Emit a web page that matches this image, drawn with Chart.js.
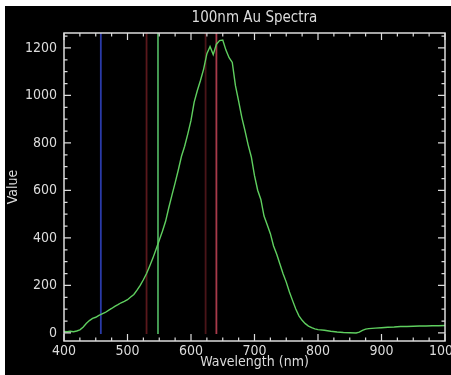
<!DOCTYPE html>
<html>
<head>
<meta charset="utf-8">
<script src="https://cdn.jsdelivr.net/npm/chart.js@4.4.1/dist/chart.umd.min.js"></script>
<style>
  html, body { margin: 0; padding: 0; background: #fff; overflow: hidden; }
  #wrap { position: absolute; left: 5px; top: 6px; width: 446px; height: 369px; background: #000; }
</style>
</head>
<body>
<div id="wrap"><canvas id="chart"></canvas></div>
<script>
// spectrum (nm / counts)
const wavelengths = [
  400, 405, 410, 415, 420, 425, 430, 435, 440, 445, 450, 455, 460, 465, 470, 475, 480, 485, 490, 495,
  500, 505, 510, 515, 520, 525, 530, 535, 540, 545, 550, 555, 560, 565, 570, 575, 580, 585, 590, 595,
  600, 605, 610, 615, 620, 625, 630, 635, 640, 645, 650, 655, 660, 665, 670, 675, 680, 685, 690, 695,
  700, 705, 710, 715, 720, 725, 730, 735, 740, 745, 750, 755, 760, 765, 770, 775, 780, 785, 790, 795,
  800, 810, 820, 830, 840, 850, 860, 865, 870, 875, 880, 890, 900, 910, 920, 930, 940, 950, 960, 970, 980, 990, 1000
];
const values = [
  6, 5, 7, 5, 8, 13, 24, 40, 52, 61, 66, 74, 80, 86, 95, 103, 112, 119, 127, 133,
  140, 151, 162, 180, 200, 224, 250, 282, 315, 352, 390, 428, 470, 527, 580, 632, 686, 744, 786, 838,
  895, 972, 1021, 1064, 1112, 1176, 1206, 1172, 1216, 1231, 1233, 1191, 1159, 1139, 1041, 976, 908, 852, 792, 741,
  662, 601, 562, 492, 456, 418, 366, 331, 290, 249, 214, 172, 136, 101, 72, 53, 39, 29, 22, 17,
  14, 11, 7, 4, 2, 1, 0, 3, 11, 16, 18, 20, 22, 24, 25, 27, 27, 28, 29, 29, 30, 30, 31
];

// marker lines (nm)
const lineWavelengths = [458, 530, 548, 623, 640];
const lineColors = ['#2a3aa8', '#5a181c', '#4aa85a', '#4a1418', '#a83a4a'];

const xTicks = [400, 500, 600, 700, 800, 900, 1000];
const yTicks = [0, 200, 400, 600, 800, 1000, 1200];
const xMin = 400, xMax = 1000, yMin = -34, yMax = 1263;
const xMinorStep = 25, yMinorStep = 50;

const fg = '#dcdcdc';
Chart.defaults.font.family = "'DejaVu Sans Condensed', 'DejaVu Sans', sans-serif";
Chart.defaults.color = fg;

const datasets = [{
  data: wavelengths.map((w, i) => ({ x: w, y: values[i] })),
  borderColor: '#5fcf5f',
  borderWidth: 1.4,
  pointRadius: 0,
  tension: 0
}];
lineWavelengths.forEach((w, i) => {
  datasets.push({
    data: [{ x: w, y: -5 }, { x: w, y: yMax }],
    borderColor: lineColors[i],
    borderWidth: 1.8,
    pointRadius: 0
  });
});

// box and inward ticks, IDL style
const idlAxes = {
  id: 'idlAxes',
  afterDatasetsDraw(chart) {
    const { ctx, chartArea: { left, right, top, bottom }, scales: { x, y } } = chart;
    ctx.save();
    ctx.strokeStyle = fg;
    ctx.lineWidth = 1.5;
    ctx.strokeRect(left, top, right - left, bottom - top);
    ctx.lineWidth = 1.2;
    ctx.beginPath();
    for (let v = xMin; v <= xMax; v += xMinorStep) {
      const px = x.getPixelForValue(v);
      const len = xTicks.includes(v) ? 7 : 3.5;
      ctx.moveTo(px, bottom); ctx.lineTo(px, bottom - len);
      ctx.moveTo(px, top); ctx.lineTo(px, top + len);
    }
    for (let v = 0; v <= yMax; v += yMinorStep) {
      const py = y.getPixelForValue(v);
      const len = yTicks.includes(v) ? 7 : 3.5;
      ctx.moveTo(left, py); ctx.lineTo(left + len, py);
      ctx.moveTo(right, py); ctx.lineTo(right - len, py);
    }
    ctx.stroke();
    ctx.restore();
  }
};

const plain = v => String(v);

new Chart(document.getElementById('chart'), {
  type: 'line',
  data: { datasets },
  options: {
    responsive: true,
    maintainAspectRatio: false,
    animation: false,
    layout: { autoPadding: false, padding: { left: 0, right: 6, top: 0, bottom: 0 } },
    plugins: {
      legend: { display: false },
      tooltip: { enabled: false },
      title: {
        display: true,
        text: '100nm Au Spectra',
        color: fg,
        fullSize: false,
        font: { size: 15, weight: 'normal' },
        padding: { top: 3, bottom: 6 }
      }
    },
    scales: {
      x: {
        type: 'linear',
        min: xMin,
        max: xMax,
        afterBuildTicks: s => { s.ticks = xTicks.map(v => ({ value: v })); },
        afterFit: s => { s.height = 34; s.paddingLeft = 0; s.paddingRight = 0; },
        grid: { display: false, drawTicks: false },
        border: { display: false },
        ticks: { color: fg, font: { size: 14 }, padding: 2, maxRotation: 0, callback: plain },
        title: { display: true, text: 'Wavelength (nm)', color: fg, font: { size: 14 }, padding: { top: 0, bottom: 4 } }
      },
      y: {
        min: yMin,
        max: yMax,
        afterBuildTicks: s => { s.ticks = yTicks.map(v => ({ value: v })); },
        afterFit: s => { s.width = 59; s.paddingTop = 0; s.paddingBottom = 0; },
        grid: { display: false, drawTicks: false },
        border: { display: false },
        ticks: { color: fg, font: { size: 14 }, padding: 7, callback: plain },
        title: { display: true, text: 'Value', color: fg, font: { size: 14 }, padding: { top: 0, bottom: 0 } }
      }
    }
  },
  plugins: [idlAxes]
});
</script>
</body>
</html>
